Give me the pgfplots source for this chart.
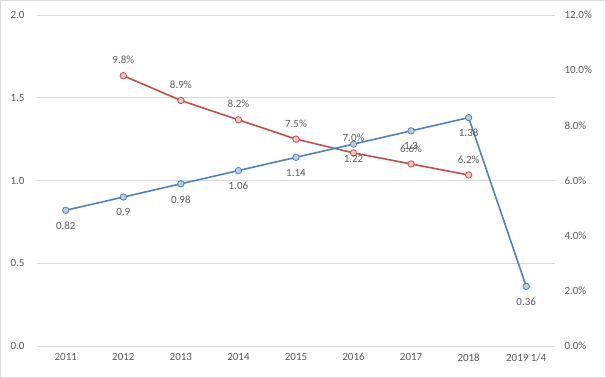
\documentclass[border=0pt]{standalone}
\usepackage{pgfplots}
\pgfplotsset{compat=1.18}
\usepackage{fontspec}
\setmainfont{Carlito}
\definecolor{bl}{HTML}{4F81BD}
\definecolor{blf}{HTML}{B9CDE5}
\definecolor{rd}{HTML}{C0504D}
\definecolor{rdf}{HTML}{F2C4C3}
\definecolor{txt}{HTML}{595959}
\definecolor{grd}{HTML}{D9D9D9}
\begin{document}
\begin{tikzpicture}[x=1pt,y=1pt]
\useasboundingbox (0,0) rectangle (606,378);
\draw[grd,line width=1pt] (0.5,0.5) rectangle (605.5,377.5);
\pgfplotsset{
  base/.style={
    at={(37pt,32pt)}, anchor=south west,
    scale only axis, width=518pt, height=331pt,
    xmin=-0.5, xmax=8.5,
    axis line style={draw=none},
    tick style={draw=none},
    ticklabel style={font=\fontsize{11}{13}\selectfont, text=txt},
    clip=false,
  }
}
\begin{axis}[base,
  ymin=0, ymax=2,
  ytick={0,0.5,1,1.5,2},
  yticklabel={\pgfmathprintnumber[fixed, fixed zerofill, precision=1]{\tick}},
  /pgf/number format/assume math mode=true,
  ymajorgrids, grid style={grd, line width=0.8pt},
  yticklabel style={anchor=west, xshift=-30pt},
  xtick={0,...,8},
  xticklabels={2011,2012,2013,2014,2015,2016,2017,2018,2019 1/4},
  xticklabel style={yshift=-4pt},
]
\addplot[draw=none, mark=none] coordinates {(0,0)};
\end{axis}
\begin{axis}[base,
  ymin=0, ymax=12,
  ytick={0,2,4,6,8,10,12},
  yticklabel={\pgfmathprintnumber[fixed, fixed zerofill, precision=1]{\tick}\%},
  /pgf/number format/assume math mode=true,
  yticklabel pos=right,
  yticklabel style={anchor=west, xshift=6pt},
  xtick=\empty,
  nodes near coords,
  point meta=explicit symbolic,
  every node near coord/.append style={font=\fontsize{11}{13}\selectfont, text=txt, anchor=south, yshift=8pt},
]
\addplot[rd, line width=1.6pt, mark=*, mark size=3.2pt,
  mark options={fill=rdf, draw=rd, line width=0.8pt}] table[meta=l] {
x y l
1 9.8 9.8\%
2 8.9 8.9\%
3 8.2 8.2\%
4 7.5 7.5\%
5 7.0 7.0\%
6 6.6 6.6\%
7 6.2 6.2\%
};
\end{axis}
\begin{axis}[base,
  ymin=0, ymax=2,
  ytick=\empty, xtick=\empty,
  nodes near coords,
  point meta=explicit symbolic,
  every node near coord/.append style={font=\fontsize{11}{13}\selectfont, text=txt, anchor=north, yshift=-8pt},
]
\addplot[bl, line width=1.6pt, mark=*, mark size=3.2pt,
  mark options={fill=blf, draw=bl, line width=0.8pt}] table[meta=l] {
x y l
0 0.82 0.82
1 0.9 0.9
2 0.98 0.98
3 1.06 1.06
4 1.14 1.14
5 1.22 1.22
6 1.3 1.3
7 1.38 1.38
8 0.36 0.36
};
\end{axis}
\end{tikzpicture}
\end{document}
